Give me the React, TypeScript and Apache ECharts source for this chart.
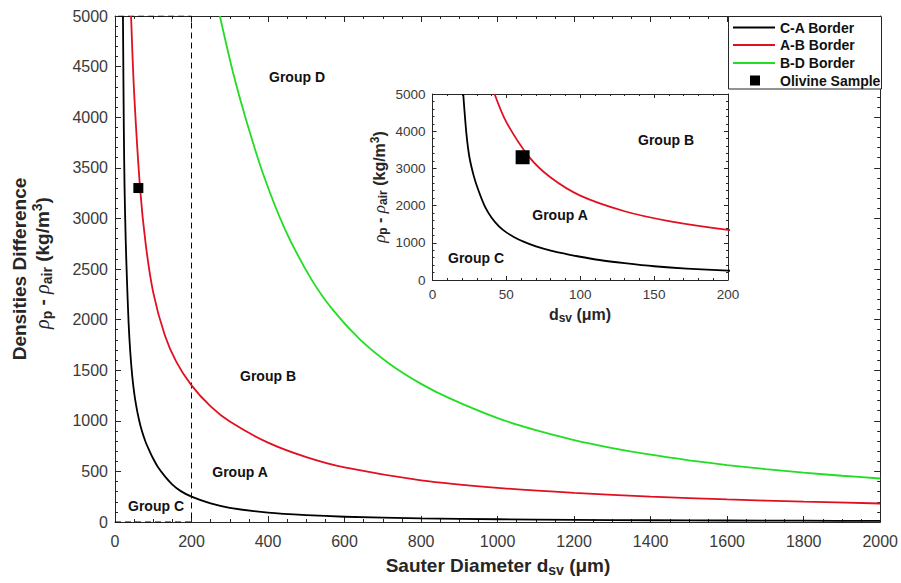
import React, { useEffect, useRef } from "react";
import * as echarts from "echarts";

// ---- data ----
const caX = [20.8, 23, 25, 28, 31, 35.5, 40, 45, 50, 55, 62, 70, 80, 90, 100, 113, 130, 150, 172, 200, 250, 300, 400, 500, 600, 800, 1000, 1200, 1400, 1600, 1800, 2000];
const caY = [5000, 3913, 3300, 2786, 2419, 1972, 1675, 1444, 1280, 1158, 1023, 903, 791, 704, 625, 538, 454, 370, 305, 250, 183, 140, 92, 67, 52, 36, 27, 21, 17.5, 14.7, 12.7, 11];

const abX = [42, 50, 65.5, 80, 100, 130, 160, 200, 250, 300, 400, 500, 600, 800, 1000, 1200, 1400, 1600, 1800, 2000];
const abY = [5000, 4244, 3302, 2753, 2267, 1848, 1585, 1350, 1142, 992, 784, 641, 539, 412, 337, 287, 251, 223, 201, 183];

const bdX = [274, 309, 342, 387, 444, 513, 570, 640, 718, 800, 875, 1000, 1100, 1200, 1300, 1400, 1500, 1600, 1700, 1800, 1900, 2000];
const bdY = [5000, 4434, 3982, 3441, 2895, 2400, 2093, 1805, 1562, 1365, 1221, 1026, 907, 810, 731, 665, 610, 563, 523, 488, 457, 430];

const olivineX = [61];
const olivineY = [3300];

const zoomBoxX = [0, 200, 200, 0];
const zoomBoxY = [0, 0, 5000, 5000];

const seriesNames = ["C-A Border", "A-B Border", "B-D Border", "Olivine Sample"];
const seriesColors = ["#000000", "#e01020", "#22dd22", "#000000"];

const mainXTicks = { min: 0, max: 2000, interval: 200 };
const mainYTicks = { min: 0, max: 5000, interval: 500 };
const insetXTicks = { min: 0, max: 200, interval: 50 };
const insetYTicks = { min: 0, max: 5000, interval: 1000 };

const groupLabelsMain = [
  { text: "Group D", x: 297, y: 77 },
  { text: "Group B", x: 268, y: 376 },
  { text: "Group A", x: 240, y: 472 },
  { text: "Group C", x: 156, y: 506 },
];
const groupLabelsInset = [
  { text: "Group B", x: 666, y: 140 },
  { text: "Group A", x: 560, y: 215 },
  { text: "Group C", x: 476, y: 258 },
];

const FONT = "'Liberation Sans', Arial, Helvetica, sans-serif";
const SERIF = "'Liberation Serif', 'DejaVu Serif', serif";
const AX = "#262626";
const LBL = "#3a3a3a";

const pairs = (xs: number[], ys: number[], maxX = Infinity) =>
  xs.map((x, i) => [x, ys[i]]).filter((p) => p[0] <= maxX);

function valueAxis(
  grid: number,
  pos: string,
  t: { min: number; max: number; interval: number },
  showLabel: boolean,
  fontSize: number,
  minorSplit: number,
  margin: number,
  tickLen: number
) {
  return {
    type: "value",
    gridIndex: grid,
    position: pos,
    min: t.min,
    max: t.max,
    interval: t.interval,
    axisLine: { show: true, onZero: false, lineStyle: { color: AX, width: 1 } },
    axisTick: { show: true, inside: true, length: tickLen, lineStyle: { color: AX, width: 1 } },
    minorTick: { show: true, splitNumber: minorSplit, length: tickLen / 2, lineStyle: { color: AX, width: 1 } },
    splitLine: { show: false },
    minorSplitLine: { show: false },
    axisLabel: {
      show: showLabel,
      fontSize,
      color: LBL,
      fontFamily: FONT,
      margin,
      formatter: (v: number) => String(v),
    },
  };
}

export default function App() {
  const ref = useRef<HTMLDivElement>(null);
  useEffect(() => {
    if (!ref.current) return;
    const chart = echarts.init(ref.current, undefined, { renderer: "svg" });

    const legendRows = [27.5, 45, 63, 80.5];
    const legendGraphics: any[] = [
      {
        type: "rect",
        z: 100,
        shape: { x: 728.5, y: 16.5, width: 153, height: 72.5 },
        style: { fill: "#fff", stroke: AX, lineWidth: 1 },
      },
    ];
    seriesNames.forEach((name, i) => {
      const y = legendRows[i];
      if (i < 3) {
        legendGraphics.push({
          type: "line",
          z: 101,
          shape: { x1: 733, y1: y, x2: 775, y2: y },
          style: { stroke: seriesColors[i], lineWidth: 1.8 },
        });
      } else {
        legendGraphics.push({
          type: "rect",
          z: 101,
          shape: { x: 750, y: y - 5, width: 10, height: 10 },
          style: { fill: seriesColors[i] },
        });
      }
      legendGraphics.push({
        type: "text",
        z: 101,
        x: 780,
        y,
        style: {
          text: name,
          fontSize: 14,
          fontWeight: "bold",
          fontFamily: FONT,
          fill: "#111",
          align: "left",
          verticalAlign: "middle",
        },
      });
    });

    const groupText = (g: { text: string; x: number; y: number }) => ({
      type: "text",
      z: 50,
      x: g.x,
      y: g.y,
      style: {
        text: g.text,
        fontSize: 14,
        fontWeight: "bold",
        fontFamily: FONT,
        fill: "#111",
        align: "center",
        verticalAlign: "middle",
      },
    });

    const titleRich = (big: number, small: number) => ({
      b: { fontSize: big, fontWeight: "bold", fontFamily: FONT, fill: AX },
      r: { fontSize: big + 1, fontStyle: "italic", fontFamily: SERIF, fill: AX },
      s: { fontSize: small, fontWeight: "bold", fontFamily: FONT, fill: AX, padding: [Math.round(big * 0.5), 0, 0, 0] },
      u: { fontSize: small, fontWeight: "bold", fontFamily: FONT, fill: AX, padding: [0, 0, Math.round(big * 0.5), 0] },
    });

    const titles: any[] = [
      {
        type: "text",
        x: 498,
        y: 565,
        style: {
          text: "{b|Sauter Diameter d}{s|sv}{b| (μm)}",
          rich: titleRich(19, 14),
          align: "center",
          verticalAlign: "middle",
        },
      },
      {
        type: "text",
        x: 19,
        y: 269,
        rotation: Math.PI / 2,
        style: {
          text: "Densities Difference",
          fontSize: 19,
          fontWeight: "bold",
          fontFamily: FONT,
          fill: AX,
          align: "center",
          verticalAlign: "middle",
        },
      },
      {
        type: "text",
        x: 42,
        y: 263,
        rotation: Math.PI / 2,
        style: {
          text: "{r|ρ}{s|p}{b| - }{r|ρ}{s|air}{b| (kg/m}{u|3}{b|)}",
          rich: titleRich(19, 14),
          align: "center",
          verticalAlign: "middle",
        },
      },
      {
        type: "text",
        x: 580,
        y: 314,
        style: {
          text: "{b|d}{s|sv}{b| (μm)}",
          rich: titleRich(16, 12),
          align: "center",
          verticalAlign: "middle",
        },
      },
      {
        type: "text",
        x: 379,
        y: 187,
        rotation: Math.PI / 2,
        style: {
          text: "{r|ρ}{s|p}{b| - }{r|ρ}{s|air}{b| (kg/m}{u|3}{b|)}",
          rich: titleRich(16, 12),
          align: "center",
          verticalAlign: "middle",
        },
      },
    ];

    const lineBase = (name: string, color: string, xs: number[], ys: number[], xi: number, yi: number, maxX = Infinity) => ({
      type: "line",
      name,
      xAxisIndex: xi,
      yAxisIndex: yi,
      data: pairs(xs, ys, maxX),
      symbol: "none",
      showSymbol: false,
      smooth: 0.3,
      clip: true,
      lineStyle: { color, width: 1.8 },
      z: 3,
    });

    chart.setOption({
      animation: false,
      backgroundColor: "#fff",
      grid: [
        { left: 115, top: 16, width: 766, height: 506, show: false },
        { left: 432.5, top: 94, width: 295.5, height: 186, show: true, backgroundColor: "#fff", borderWidth: 0, z: 5 },
      ],
      xAxis: [
        valueAxis(0, "bottom", mainXTicks, true, 16, 4, 11, 6),
        valueAxis(0, "top", mainXTicks, false, 16, 4, 8, 6),
        { ...valueAxis(1, "bottom", insetXTicks, true, 13.5, 5, 7, 4), z: 6 },
        { ...valueAxis(1, "top", insetXTicks, false, 13.5, 5, 8, 4), z: 6 },
      ],
      yAxis: [
        valueAxis(0, "left", mainYTicks, true, 16, 5, 7, 6),
        valueAxis(0, "right", mainYTicks, false, 16, 5, 8, 6),
        { ...valueAxis(1, "left", insetYTicks, true, 13.5, 5, 7, 4), z: 6 },
        { ...valueAxis(1, "right", insetYTicks, false, 13.5, 5, 8, 4), z: 6 },
      ],
      series: [
        lineBase(seriesNames[0], seriesColors[0], caX, caY, 0, 0),
        lineBase(seriesNames[1], seriesColors[1], abX, abY, 0, 0),
        lineBase(seriesNames[2], seriesColors[2], bdX, bdY, 0, 0),
        {
          type: "line",
          name: "zoom box",
          xAxisIndex: 0,
          yAxisIndex: 0,
          data: pairs(zoomBoxX, zoomBoxY),
          symbol: "none",
          lineStyle: { color: "#000", width: 1, type: [6, 4] },
          z: 2,
        },
        {
          type: "scatter",
          name: seriesNames[3],
          xAxisIndex: 0,
          yAxisIndex: 0,
          data: pairs(olivineX, olivineY),
          symbol: "rect",
          symbolSize: 10,
          itemStyle: { color: seriesColors[3], opacity: 1 },
          z: 4,
        },
        { ...lineBase(seriesNames[0], seriesColors[0], caX, caY, 2, 2, 260), z: 7 },
        { ...lineBase(seriesNames[1], seriesColors[1], abX, abY, 2, 2, 260), z: 7 },
        {
          type: "scatter",
          name: seriesNames[3],
          xAxisIndex: 2,
          yAxisIndex: 2,
          data: pairs(olivineX, olivineY),
          symbol: "rect",
          symbolSize: 14,
          itemStyle: { color: seriesColors[3], opacity: 1 },
          z: 8,
        },
      ],
      graphic: [
        ...titles,
        ...groupLabelsMain.map(groupText),
        ...groupLabelsInset.map((g) => ({ ...groupText(g), z: 60 })),
        ...legendGraphics,
      ],
    });
    return () => chart.dispose();
  }, []);
  return (
    <div
      ref={ref}
      style={{ position: "fixed", left: 0, top: 0, width: 901, height: 583, background: "#fff" }}
    />
  );
}
